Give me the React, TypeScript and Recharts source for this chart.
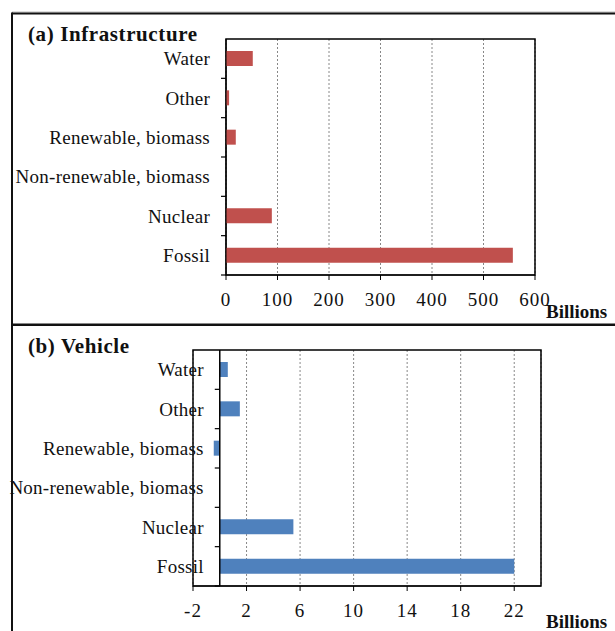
import {
  Bar,
  BarChart,
  CartesianGrid,
  ReferenceArea,
  ReferenceLine,
  XAxis,
  YAxis,
} from "recharts";

const categories = [
  "Water",
  "Other",
  "Renewable, biomass",
  "Non-renewable, biomass",
  "Nuclear",
  "Fossil",
];
const infrastructureValues = [52, 6, 19, 0, 89, 557];
const vehicleValues = [0.6, 1.5, -0.45, 0, 5.5, 22];
const infrastructureTicks = [0, 100, 200, 300, 400, 500, 600];
const vehicleTicks = [-2, 2, 6, 10, 14, 18, 22];

const FONT = '"Liberation Serif", "Times New Roman", serif';
const PLOT_H = 236;
const STEP = PLOT_H / categories.length;

const infraData = categories.map((name, i) => ({
  name,
  value: infrastructureValues[i],
}));
const vehicleData = categories.map((name, i) => ({
  name,
  value: vehicleValues[i],
}));

type TickProps = {
  x: number;
  y: number;
  payload: { value: string };
  shift: number;
};

// label at band centre, tick mark on the band's lower boundary (Excel style)
const CategoryTick = ({ x, y, payload, shift }: TickProps) => {
  const ax = x + shift;
  return (
    <g>
      <line
        x1={ax - 5}
        x2={ax}
        y1={y + STEP / 2}
        y2={y + STEP / 2}
        stroke="#000"
        strokeWidth={1.2}
      />
      <text
        x={ax - 16}
        y={y}
        dy="0.35em"
        textAnchor="end"
        fontFamily={FONT}
        fontSize={19}
        letterSpacing={0.25}
        fill="#111"
      >
        {payload.value}
      </text>
    </g>
  );
};

const xTick = {
  fontFamily: FONT,
  fontSize: 19,
  fill: "#111",
  letterSpacing: 1,
};

const App = () => {
  // vehicle plot: domain [-2, 24] over 348px, zero axis sits inside
  const vehiclePlotW = 615 - 74 - 193;
  const zeroShift = (vehiclePlotW * (0 - -2)) / (24 - -2);

  return (
    <div
      style={{
        position: "absolute",
        left: 0,
        top: 0,
        width: 615,
        height: 631,
        background: "#fff",
        overflow: "hidden",
      }}
    >
      <div style={{ position: "absolute", left: 0, top: 0 }}>
        <BarChart
          width={615}
          height={325}
          data={infraData}
          layout="vertical"
          margin={{ top: 39, right: 80, left: 0, bottom: 20 }}
        >
          <CartesianGrid
            horizontal={false}
            stroke="#888"
            strokeDasharray="2 2"
          />
          <XAxis
            type="number"
            domain={[0, 600]}
            ticks={infrastructureTicks}
            height={30}
            tickSize={5}
            tickMargin={13}
            tick={xTick}
            stroke="#000"
            interval={0}
          />
          <YAxis
            type="category"
            dataKey="name"
            width={226}
            tickSize={0}
            tickMargin={0}
            stroke="#000"
            interval={0}
            tick={(p: any) => <CategoryTick {...p} shift={0} />}
          />
          <ReferenceArea
            x1={0}
            x2={600}
            fill="none"
            stroke="#000"
            strokeWidth={1.5}
            fillOpacity={0}
          />
          <Bar
            dataKey="value"
            fill="#C0504D"
            barSize={15}
            isAnimationActive={false}
          />
        </BarChart>
      </div>

      <div style={{ position: "absolute", left: 0, top: 325 }}>
        <BarChart
          width={615}
          height={306}
          data={vehicleData}
          layout="vertical"
          margin={{ top: 25, right: 74, left: 0, bottom: 15 }}
        >
          <CartesianGrid
            horizontal={false}
            stroke="#888"
            strokeDasharray="2 2"
          />
          <XAxis
            type="number"
            domain={[-2, 24]}
            ticks={vehicleTicks}
            height={30}
            tickSize={5}
            tickMargin={13}
            tick={xTick}
            stroke="#000"
            interval={0}
          />
          <YAxis
            type="category"
            dataKey="name"
            width={193}
            axisLine={false}
            tickSize={0}
            tickMargin={0}
            interval={0}
            tick={(p: any) => <CategoryTick {...p} shift={zeroShift} />}
          />
          <ReferenceArea
            x1={-2}
            x2={24}
            fill="none"
            stroke="#000"
            strokeWidth={1.5}
            fillOpacity={0}
          />
          <ReferenceLine x={0} stroke="#000" strokeWidth={1.5} />
          <Bar
            dataKey="value"
            fill="#4F81BD"
            barSize={15}
            isAnimationActive={false}
          />
        </BarChart>
      </div>

      <svg
        width={615}
        height={631}
        style={{ position: "absolute", left: 0, top: 0, pointerEvents: "none" }}
      >
        <line x1={12} x2={615} y1={12} y2={12} stroke="#bbb" strokeWidth={1} />
        <line x1={12} x2={615} y1={13.5} y2={13.5} stroke="#111" strokeWidth={2} />
        <line x1={12} x2={12} y1={12.5} y2={631} stroke="#111" strokeWidth={2} />
        <line x1={12} x2={615} y1={324.8} y2={324.8} stroke="#111" strokeWidth={2.5} />
        <text
          x={28}
          y={41}
          fontFamily={FONT}
          fontSize={21}
          fontWeight="bold"
          letterSpacing={0.6}
          fill="#111"
        >
          (a) Infrastructure
        </text>
        <text
          x={28}
          y={353}
          fontFamily={FONT}
          fontSize={21}
          fontWeight="bold"
          letterSpacing={0.6}
          fill="#111"
        >
          (b) Vehicle
        </text>
        <text x={546} y={318} fontFamily={FONT} fontSize={19} fontWeight="bold" fill="#111">
          Billions
        </text>
        <text x={546} y={628} fontFamily={FONT} fontSize={19} fontWeight="bold" fill="#111">
          Billions
        </text>
      </svg>
    </div>
  );
};

export default App;
